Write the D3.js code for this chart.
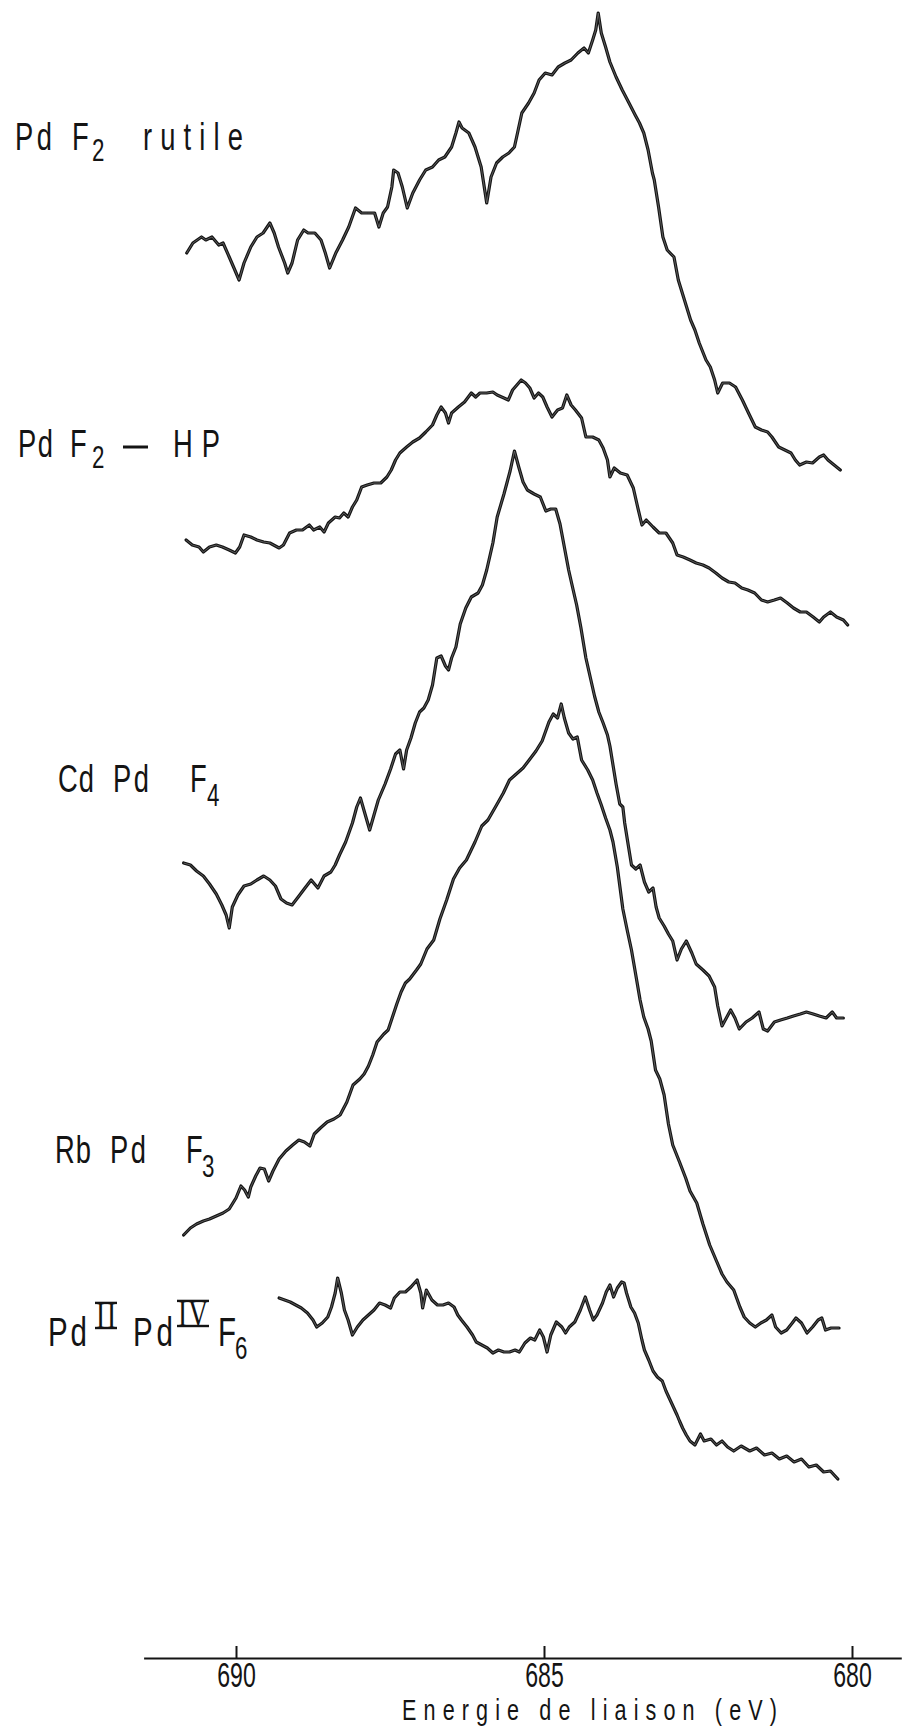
<!DOCTYPE html>
<html>
<head>
<meta charset="utf-8">
<script src="https://cdn.jsdelivr.net/npm/d3@7"></script>
<style>
  html, body { margin: 0; padding: 0; background: #fff; }
  svg { display: block; }
</style>
</head>
<body>
<svg id="chart" width="902" height="1730"></svg>
<script>
// Binding-energy axis
const tickValues = [690, 685, 680];
const tickLabels = ["690", "685", "680"];
const axisTitle = "Energie de liaison  (eV)";

// Spectrum names, top to bottom, and their vertical stacking offsets (arb. units)
const seriesNames = ["PdF2 rutile", "PdF2 - HP", "CdPdF4", "RbPdF3", "PdII PdIV F6"];
const offsets = [110, 90, 60, 31, 3];

// F 1s spectra: [binding energy (eV), intensity (arb. units)]
const rutile = [
  [690.80,30.4],[690.70,31.4],[690.56,32.0],[690.49,31.7],[690.39,32.0],[690.28,31.2],[690.21,31.4],[690.11,30.0],
  [690.04,29.0],[689.95,27.7],[689.87,29.4],[689.76,31.0],[689.66,32.0],[689.56,32.4],[689.45,33.4],[689.38,32.4],
  [689.31,31.0],[689.21,29.4],[689.16,28.4],[689.09,29.4],[689.00,31.7],[688.90,32.7],[688.83,32.4],[688.72,32.4],
  [688.62,31.7],[688.55,30.4],[688.48,28.9],[688.38,30.4],[688.27,31.7],[688.17,33.0],[688.06,34.9],[687.96,34.4],
  [687.86,34.4],[687.75,34.4],[687.68,33.0],[687.61,34.4],[687.54,35.0],[687.47,37.0],[687.44,38.7],[687.37,38.4],
  [687.30,37.0],[687.22,34.9],[687.13,36.4],[687.02,37.7],[686.92,38.7],[686.81,39.0],[686.71,39.7],[686.61,40.0],
  [686.50,41.0],[686.43,42.4],[686.38,43.5],[686.33,42.9],[686.22,42.4],[686.12,41.0],[686.02,39.0],[685.97,37.0],
  [685.93,35.4],[685.86,38.0],[685.77,39.4],[685.67,40.0],[685.57,40.4],[685.48,41.0],[685.43,42.4],[685.36,44.4],
  [685.25,45.4],[685.16,46.4],[685.08,47.7],[684.98,48.4],[684.87,48.2],[684.77,49.0],[684.66,49.4],[684.56,49.7],
  [684.45,50.4],[684.35,50.9],[684.28,50.4],[684.21,51.7],[684.16,52.7],[684.12,54.4],[684.07,52.4],[684.00,51.0],
  [683.93,49.5],[683.83,48.0],[683.73,46.7],[683.62,45.4],[683.52,44.2],[683.45,43.4],[683.38,42.4],[683.31,40.7],
  [683.24,38.4],[683.21,37.7],[683.14,35.0],[683.07,32.0],[683.00,30.7],[682.89,30.0],[682.82,27.7],[682.72,25.7],
  [682.62,23.7],[682.55,22.7],[682.48,21.4],[682.37,19.7],[682.30,19.0],[682.23,17.7],[682.18,16.4],[682.10,17.4],
  [681.99,17.4],[681.89,17.0],[681.78,15.7],[681.68,14.4],[681.57,13.0],[681.47,12.7],[681.37,12.5],[681.30,12.0],
  [681.19,11.0],[681.09,10.7],[680.99,10.4],[680.92,9.7],[680.85,9.2],[680.74,9.5],[680.64,9.4],[680.53,10.0],
  [680.46,10.2],[680.39,9.7],[680.29,9.2],[680.19,8.7]
];

const highPressure = [
  [690.81,21.7],[690.71,21.2],[690.60,21.0],[690.53,20.5],[690.43,21.0],[690.32,21.2],[690.22,21.0],[690.11,20.7],
  [690.01,20.4],[689.94,21.0],[689.87,22.2],[689.76,22.0],[689.66,21.7],[689.55,21.5],[689.45,21.4],[689.30,20.9],
  [689.23,21.2],[689.13,22.4],[689.02,22.7],[688.92,22.7],[688.81,23.2],[688.74,22.7],[688.64,23.0],[688.57,22.5],
  [688.50,23.4],[688.39,24.0],[688.32,23.9],[688.25,24.4],[688.18,24.0],[688.11,25.0],[688.04,25.7],[687.96,27.0],
  [687.87,27.2],[687.76,27.4],[687.65,27.4],[687.55,28.0],[687.48,28.7],[687.41,29.7],[687.34,30.4],[687.23,31.0],
  [687.13,31.5],[687.02,31.9],[686.92,32.5],[686.81,33.2],[686.74,34.2],[686.67,35.0],[686.60,34.4],[686.55,33.4],
  [686.50,34.4],[686.39,35.0],[686.29,35.5],[686.18,36.4],[686.11,36.0],[686.04,36.4],[685.93,36.4],[685.83,36.5],
  [685.76,36.2],[685.65,35.9],[685.58,35.7],[685.51,36.7],[685.44,37.2],[685.37,37.7],[685.30,37.4],[685.23,36.9],
  [685.16,35.9],[685.09,36.4],[685.02,36.0],[684.95,35.0],[684.87,34.0],[684.78,34.7],[684.70,34.9],[684.63,36.2],
  [684.56,35.2],[684.49,34.7],[684.39,33.9],[684.32,32.0],[684.21,32.0],[684.11,31.7],[684.04,30.9],[683.97,29.7],
  [683.93,28.0],[683.86,28.9],[683.76,28.4],[683.65,28.2],[683.55,26.9],[683.48,25.0],[683.41,23.2],[683.34,23.7],
  [683.23,23.0],[683.13,22.4],[683.02,22.4],[682.91,21.4],[682.84,20.2],[682.74,20.0],[682.63,19.7],[682.53,19.4],
  [682.42,19.2],[682.32,18.9],[682.21,18.4],[682.11,17.9],[682.00,17.5],[681.90,17.4],[681.79,16.9],[681.69,16.7],
  [681.58,16.4],[681.47,15.7],[681.37,15.5],[681.26,15.7],[681.16,15.9],[681.05,15.4],[680.95,14.9],[680.84,14.5],
  [680.74,14.5],[680.63,14.0],[680.53,13.5],[680.46,14.0],[680.35,14.5],[680.25,14.0],[680.14,13.7],[680.07,13.2]
];

const cdPdF4 = [
  [690.85,19.4],[690.74,19.2],[690.64,18.6],[690.53,18.1],[690.43,17.3],[690.32,16.3],[690.23,15.2],[690.16,14.2],
  [690.11,12.9],[690.06,15.0],[689.97,16.2],[689.87,17.1],[689.76,17.3],[689.66,17.7],[689.55,18.1],[689.45,17.7],
  [689.36,17.1],[689.27,15.8],[689.18,15.4],[689.09,15.2],[688.99,16.0],[688.88,16.9],[688.78,17.7],[688.67,16.9],
  [688.57,18.1],[688.46,18.5],[688.39,19.2],[688.32,20.2],[688.22,21.5],[688.11,23.4],[688.04,25.0],[687.98,25.9],
  [687.91,24.4],[687.83,22.7],[687.76,24.2],[687.69,25.7],[687.58,27.3],[687.49,28.8],[687.41,30.3],[687.34,30.7],
  [687.28,28.8],[687.23,30.7],[687.16,31.9],[687.09,33.4],[687.02,34.5],[686.95,34.9],[686.88,35.7],[686.81,37.2],
  [686.74,39.9],[686.67,40.1],[686.60,39.1],[686.55,38.7],[686.50,39.9],[686.43,41.0],[686.36,43.3],[686.27,44.9],
  [686.18,46.0],[686.07,46.4],[686.00,47.2],[685.93,48.7],[685.83,51.4],[685.76,54.0],[685.65,56.3],[685.55,58.6],
  [685.48,60.6],[685.41,59.0],[685.34,57.5],[685.27,56.7],[685.16,56.3],[685.06,56.0],[684.97,54.6],[684.89,54.8],
  [684.81,54.8],[684.74,53.3],[684.67,51.0],[684.60,48.7],[684.53,46.8],[684.47,45.2],[684.40,42.9],[684.32,39.9],
  [684.25,38.0],[684.18,36.1],[684.11,34.5],[684.04,33.4],[683.97,32.2],[683.93,31.1],[683.88,29.2],[683.83,27.3],
  [683.77,25.3],[683.72,25.0],[683.69,23.4],[683.63,21.1],[683.58,19.2],[683.51,18.8],[683.44,19.2],[683.37,17.5],
  [683.30,16.5],[683.23,16.9],[683.18,15.0],[683.13,13.9],[683.05,13.1],[682.98,12.3],[682.91,11.6],[682.84,9.7],
  [682.77,10.8],[682.69,11.6],[682.60,10.4],[682.53,9.3],[682.42,8.7],[682.32,8.1],[682.23,7.0],[682.18,5.1],
  [682.11,3.1],[682.04,3.9],[681.97,4.7],[681.90,3.9],[681.83,2.8],[681.72,3.5],[681.62,3.9],[681.51,4.5],
  [681.44,2.8],[681.37,2.6],[681.26,3.5],[681.16,3.7],[681.05,3.9],[680.95,4.1],[680.84,4.3],[680.74,4.5],
  [680.63,4.3],[680.53,4.1],[680.42,3.9],[680.32,4.5],[680.25,3.9],[680.14,3.9]
];

const rbPdF3 = [
  [690.85,11.2],[690.74,11.9],[690.64,12.3],[690.53,12.6],[690.43,12.8],[690.32,13.1],[690.21,13.4],[690.11,13.8],
  [690.00,14.9],[689.92,16.1],[689.86,15.7],[689.80,15.0],[689.76,16.0],[689.68,17.1],[689.61,17.9],[689.54,17.8],
  [689.47,16.6],[689.40,17.6],[689.30,18.8],[689.19,19.6],[689.08,20.2],[688.98,20.7],[688.89,20.5],[688.80,20.1],
  [688.73,21.3],[688.63,21.9],[688.52,22.5],[688.41,22.8],[688.31,23.2],[688.20,24.5],[688.10,26.2],[687.99,26.8],
  [687.92,27.3],[687.85,28.1],[687.78,29.2],[687.71,30.5],[687.60,31.3],[687.53,31.7],[687.46,33.0],[687.39,34.3],
  [687.32,35.5],[687.25,36.4],[687.18,36.8],[687.07,37.7],[687.00,38.3],[686.90,39.8],[686.79,40.7],[686.69,42.8],
  [686.58,44.7],[686.47,46.8],[686.37,47.9],[686.26,48.7],[686.12,50.5],[686.01,52.1],[685.91,52.7],[685.77,54.2],
  [685.66,55.4],[685.56,56.7],[685.45,57.3],[685.34,57.9],[685.24,58.7],[685.13,59.6],[685.03,60.6],[684.92,62.5],
  [684.85,63.3],[684.78,62.9],[684.72,64.3],[684.67,62.9],[684.60,61.4],[684.53,60.8],[684.46,61.0],[684.39,58.7],
  [684.29,57.7],[684.21,56.7],[684.14,55.4],[684.07,54.2],[684.00,52.9],[683.93,51.7],[683.88,50.5],[683.81,48.0],
  [683.72,43.8],[683.65,41.7],[683.58,39.7],[683.51,37.2],[683.44,34.7],[683.38,33.0],[683.31,31.8],[683.26,30.6],
  [683.19,27.7],[683.12,26.8],[683.05,25.2],[682.98,22.3],[682.91,20.2],[682.80,18.5],[682.70,16.9],[682.63,15.6],
  [682.52,14.4],[682.42,12.3],[682.31,10.2],[682.20,8.6],[682.11,7.3],[682.03,6.5],[681.92,5.7],[681.82,4.0],
  [681.75,3.0],[681.66,2.4],[681.57,2.0],[681.48,2.4],[681.39,2.7],[681.30,3.2],[681.24,2.0],[681.15,1.4],
  [681.06,1.7],[680.97,2.4],[680.91,2.9],[680.82,2.4],[680.73,1.4],[680.64,2.0],[680.55,2.7],[680.49,2.9],
  [680.43,1.7],[680.34,1.9],[680.21,1.9]
];

const mixedValence = [
  [689.30,32.9],[689.21,32.7],[689.12,32.5],[689.03,32.2],[688.94,31.9],[688.84,31.4],[688.75,30.7],[688.69,30.0],
  [688.60,30.4],[688.51,31.0],[688.45,32.0],[688.39,33.4],[688.35,34.9],[688.29,33.4],[688.24,31.7],[688.18,30.7],
  [688.11,29.2],[688.03,30.0],[687.94,30.7],[687.85,31.2],[687.76,31.7],[687.67,32.4],[687.58,32.2],[687.49,31.9],
  [687.43,32.9],[687.34,33.5],[687.25,33.5],[687.16,34.0],[687.06,34.7],[687.00,33.4],[686.97,31.9],[686.91,33.7],
  [686.82,32.7],[686.73,32.2],[686.64,32.2],[686.55,32.4],[686.46,32.0],[686.40,31.2],[686.34,30.7],[686.25,30.0],
  [686.16,29.2],[686.10,28.5],[686.01,28.2],[685.92,27.9],[685.83,27.4],[685.74,27.7],[685.65,27.5],[685.56,27.5],
  [685.47,27.7],[685.40,27.5],[685.31,28.4],[685.22,28.9],[685.15,28.7],[685.07,29.7],[685.01,29.0],[684.95,27.5],
  [684.89,29.2],[684.80,30.5],[684.71,30.0],[684.65,29.4],[684.59,30.0],[684.50,30.5],[684.41,31.7],[684.33,33.0],
  [684.26,31.7],[684.20,30.7],[684.14,31.2],[684.05,32.4],[683.99,33.5],[683.93,34.2],[683.87,33.0],[683.81,33.9],
  [683.74,34.5],[683.70,34.4],[683.66,33.4],[683.59,32.0],[683.53,31.4],[683.47,30.4],[683.41,28.7],[683.37,27.7],
  [683.30,26.7],[683.23,25.6],[683.16,25.0],[683.08,24.6],[683.02,23.6],[682.96,22.8],[682.90,22.0],[682.84,21.2],
  [682.80,20.6],[682.75,19.9],[682.69,19.2],[682.63,18.6],[682.55,18.2],[682.46,19.3],[682.40,18.6],[682.29,18.8],
  [682.20,18.2],[682.11,18.6],[682.02,18.0],[681.92,17.6],[681.80,18.1],[681.66,17.6],[681.55,17.9],[681.42,17.2],
  [681.30,17.4],[681.18,16.8],[681.06,17.1],[680.94,16.5],[680.82,16.8],[680.70,16.0],[680.58,16.2],[680.46,15.5],
  [680.35,15.6],[680.23,14.8]
];

const spectra = [rutile, highPressure, cdPdF4, rbPdF3, mixedValence];

// ---------------------------------------------------------------------------
const svg = d3.select("#chart");

const x = d3.scaleLinear().domain([690, 680]).range([236, 852]);
const y = d3.scaleLinear().domain([0, 165.7]).range([1657, 0]);

const ink = "#141414";
const condensed = 0.72;
const sansFont = "'Liberation Sans', Arial, sans-serif";
const serifFont = "'Liberation Serif', 'Times New Roman', serif";

// Traces: a dark pen stroke with a lighter core, like a recorder trace
const traceLine = (off) => d3.line()
  .x(d => x(d[0]))
  .y(d => y(d[1] + off))
  .curve(d3.curveLinear);

const traces = svg.append("g").attr("class", "traces");
spectra.forEach((data, i) => {
  const g = traces.append("g").attr("class", "spectrum").attr("data-name", seriesNames[i]);
  g.append("path")
    .attr("d", traceLine(offsets[i])(data))
    .attr("fill", "none")
    .attr("stroke", ink)
    .attr("stroke-width", 3.2)
    .attr("stroke-linejoin", "round")
    .attr("stroke-linecap", "round");
  g.append("path")
    .attr("d", traceLine(offsets[i])(data))
    .attr("fill", "none")
    .attr("stroke", "#6e6e6e")
    .attr("stroke-width", 0.8)
    .attr("stroke-linejoin", "round");
});

// Bottom axis: long baseline, short upward ticks, labels below
const axisY = 1658;
const xAxisScale = x.copy().domain([691.5, 679.2]).range([x(691.5), x(679.2)]);
const axis = d3.axisBottom(xAxisScale)
  .tickValues(tickValues)
  .tickFormat((d, i) => tickLabels[i])
  .tickSize(-12)
  .tickSizeOuter(0)
  .tickPadding(4);

const axisG = svg.append("g")
  .attr("class", "x-axis")
  .attr("transform", `translate(0,${axisY})`)
  .call(axis);

axisG.select(".domain").attr("stroke", ink).attr("stroke-width", 2);
axisG.selectAll(".tick line").attr("stroke", ink).attr("stroke-width", 2);
axisG.selectAll(".tick text")
  .attr("fill", ink)
  .attr("font-family", sansFont)
  .attr("font-size", 35)
  .attr("dy", "0.71em")
  .attr("transform", "scale(0.66,1)");

// Axis title
svg.append("text")
  .attr("class", "axis-title")
  .attr("transform", `translate(402,1720) scale(${condensed},1)`)
  .attr("textLength", 375 / condensed)
  .attr("lengthAdjust", "spacing")
  .attr("font-family", sansFont)
  .attr("font-size", 30)
  .attr("fill", ink)
  .text(axisTitle);

// Compound labels, built from pieces so that subscripts and
// Roman-numeral oxidation states can be placed individually.
function piece(g, p) {
  g.append("text")
    .attr("transform", `translate(${p.x},${p.y}) scale(${condensed},1)`)
    .attr("textLength", p.w / condensed)
    .attr("lengthAdjust", "spacing")
    .attr("font-family", p.serif ? serifFont : sansFont)
    .attr("font-size", p.size)
    .attr("fill", ink)
    .text(p.t);
  if (p.bars) {
    const top = p.y - p.size * 0.66;
    [top, p.y].forEach(yy => g.append("line")
      .attr("x1", p.x - 1).attr("x2", p.x + p.w + 1)
      .attr("y1", yy).attr("y2", yy)
      .attr("stroke", ink).attr("stroke-width", 2.4));
  }
}

const labelLayout = [
  [ {t: "Pd", x: 15, y: 150, w: 37, size: 38}, {t: "F", x: 72, y: 150, w: 16, size: 38},
    {t: "2", x: 92, y: 161, w: 18, size: 31}, {t: "rutile", x: 143, y: 150, w: 100, size: 38} ],
  [ {t: "Pd", x: 18, y: 457, w: 35, size: 38}, {t: "F", x: 70, y: 457, w: 15, size: 38},
    {t: "2", x: 92, y: 468, w: 18, size: 31}, {dash: true, x1: 123, x2: 148, y: 447},
    {t: "HP", x: 173, y: 457, w: 47, size: 38} ],
  [ {t: "Cd", x: 58, y: 792, w: 36, size: 38}, {t: "Pd", x: 113, y: 792, w: 36, size: 38},
    {t: "F", x: 190, y: 792, w: 15, size: 38}, {t: "4", x: 207, y: 806, w: 17, size: 31} ],
  [ {t: "Rb", x: 55, y: 1163, w: 36, size: 38}, {t: "Pd", x: 110, y: 1163, w: 36, size: 38},
    {t: "F", x: 186, y: 1163, w: 14, size: 38}, {t: "3", x: 202, y: 1177, w: 18, size: 31} ],
  [ {t: "Pd", x: 48, y: 1346, w: 39, size: 41}, {t: "II", x: 96, y: 1328, w: 20, size: 38, serif: true, bars: true},
    {t: "Pd", x: 133, y: 1346, w: 40, size: 41}, {t: "IV", x: 178, y: 1326, w: 30, size: 38, serif: true, bars: true},
    {t: "F", x: 218, y: 1346, w: 13, size: 41}, {t: "6", x: 235, y: 1359, w: 16, size: 31} ]
];

const labels = svg.append("g").attr("class", "labels");
labelLayout.forEach((parts, i) => {
  const g = labels.append("g").attr("class", "label").attr("data-name", seriesNames[i]);
  parts.forEach(p => {
    if (p.dash) {
      g.append("line").attr("x1", p.x1).attr("x2", p.x2).attr("y1", p.y).attr("y2", p.y)
        .attr("stroke", ink).attr("stroke-width", 3);
    } else {
      piece(g, p);
    }
  });
});
</script>
</body>
</html>
